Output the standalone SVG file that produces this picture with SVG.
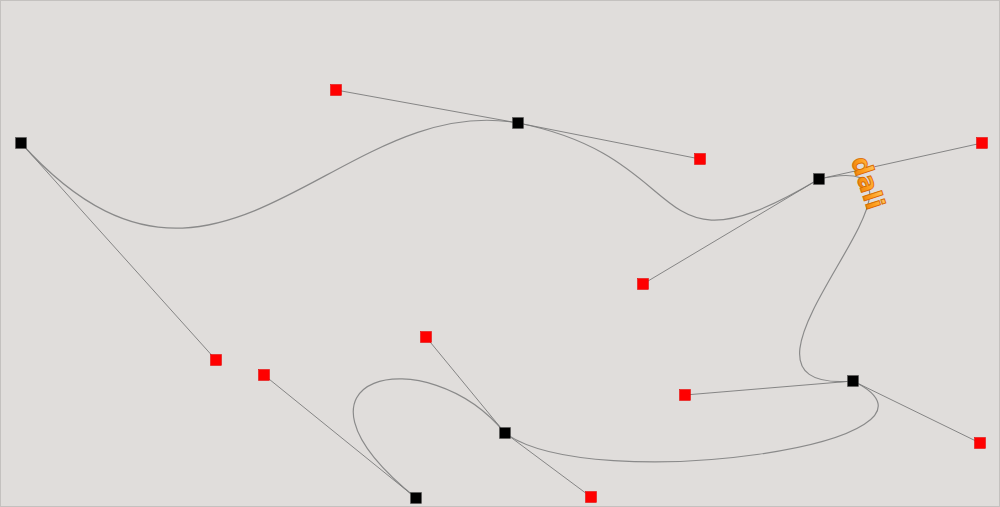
<svg xmlns="http://www.w3.org/2000/svg" width="1000" height="507" viewBox="0 0 1000 507">
  <defs>
    <linearGradient id="orange" x1="0" y1="0" x2="0" y2="1">
      <stop offset="0" stop-color="#ffd070"/>
      <stop offset="0.5" stop-color="#ffa020"/>
      <stop offset="1" stop-color="#e87800"/>
    </linearGradient>
  </defs>
  <style>
    .bg { fill: #e0dddb; stroke: #c4c1bf; stroke-width: 1; }
    .handle { stroke: #7a7a7a; stroke-width: 0.9; fill: none; }
    .curve { stroke: #8a8a8a; stroke-width: 1.2; fill: none; }
    .node { fill: #000000; stroke: #555555; stroke-width: 0.5; }
    .ctrl { fill: #ff0000; stroke: #e00000; stroke-width: 0.5; }
    .logo { font-family: "DejaVu Sans", "Liberation Sans", sans-serif; font-weight: bold; font-size: 26px; fill: url(#orange); stroke: #d86a00; stroke-width: 0.9; }
  </style>
  <rect class="bg" x="0.5" y="0.5" width="999" height="506"/>

  <g id="connectors">
    <path class="curve" d="M21,143 C216,360 336,90 518,123 C700,159 643,284 819,179 C982,143 685,395 853,381 C980,443 591,497 505,433 C426,337 264,375 416,498"/>
    <line class="handle" x1="21" y1="143" x2="216" y2="360"/>
    <line class="handle" x1="336" y1="90" x2="518" y2="123"/>
    <line class="handle" x1="518" y1="123" x2="700" y2="159"/>
    <line class="handle" x1="643" y1="284" x2="819" y2="179"/>
    <line class="handle" x1="819" y1="179" x2="982" y2="143"/>
    <line class="handle" x1="685" y1="395" x2="853" y2="381"/>
    <line class="handle" x1="853" y1="381" x2="980" y2="443"/>
    <line class="handle" x1="426" y1="337" x2="505" y2="433"/>
    <line class="handle" x1="505" y1="433" x2="591" y2="497"/>
    <line class="handle" x1="264" y1="375" x2="416" y2="498"/>
  </g>

  <g id="node-p1"><rect class="node" x="15.5" y="137.5" width="11" height="11"/></g>
  <g id="node-p2"><rect class="node" x="512.5" y="117.5" width="11" height="11"/></g>
  <g id="node-p3"><rect class="node" x="813.5" y="173.5" width="11" height="11"/></g>
  <g id="node-p4"><rect class="node" x="847.5" y="375.5" width="11" height="11"/></g>
  <g id="node-p5"><rect class="node" x="499.5" y="427.5" width="11" height="11"/></g>
  <g id="node-p6"><rect class="node" x="410.5" y="492.5" width="11" height="11"/></g>

  <g id="ctrl-p1"><rect class="ctrl" x="210.5" y="354.5" width="11" height="11"/></g>
  <g id="ctrl-p2a"><rect class="ctrl" x="330.5" y="84.5" width="11" height="11"/></g>
  <g id="ctrl-p2b"><rect class="ctrl" x="694.5" y="153.5" width="11" height="11"/></g>
  <g id="ctrl-p3a"><rect class="ctrl" x="637.5" y="278.5" width="11" height="11"/></g>
  <g id="ctrl-p3b"><rect class="ctrl" x="976.5" y="137.5" width="11" height="11"/></g>
  <g id="ctrl-p4a"><rect class="ctrl" x="679.5" y="389.5" width="11" height="11"/></g>
  <g id="ctrl-p4b"><rect class="ctrl" x="974.5" y="437.5" width="11" height="11"/></g>
  <g id="ctrl-p5a"><rect class="ctrl" x="420.5" y="331.5" width="11" height="11"/></g>
  <g id="ctrl-p5b"><rect class="ctrl" x="585.5" y="491.5" width="11" height="11"/></g>
  <g id="ctrl-p6"><rect class="ctrl" x="258.5" y="369.5" width="11" height="11"/></g>

  <g id="logo">
    <text class="logo" transform="translate(851,160) rotate(72)">dali</text>
  </g>
</svg>
